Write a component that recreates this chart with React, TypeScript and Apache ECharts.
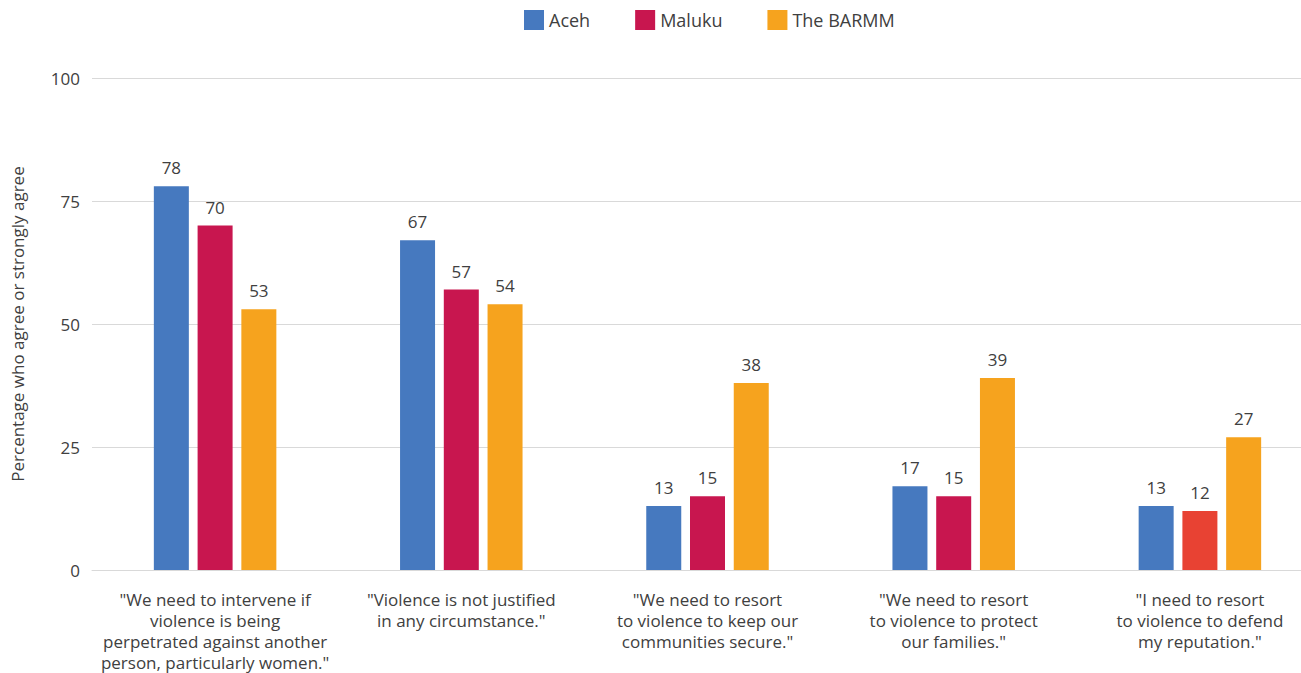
import React, { useEffect, useRef } from "react";
import * as echarts from "echarts";

const categories = [
  '"We need to intervene if\nviolence is being\nperpetrated against another\nperson, particularly women."',
  '"Violence is not justified\nin any circumstance."',
  '"We need to resort\nto violence to keep our\ncommunities secure."',
  '"We need to resort\nto violence to protect\nour families."',
  '"I need to resort\nto violence to defend\nmy reputation."',
];
const aceh = [78, 67, 13, 17, 13];
const maluku = [70, 57, 15, 15, 12];
const barmm = [53, 54, 38, 39, 27];
const yTicks = [0, 25, 50, 75, 100];

const FONT = "Open Sans";
const TXT = "#404040";

export default function App() {
  const ref = useRef<HTMLDivElement>(null);
  useEffect(() => {
    document.body.style.margin = "0";
    const chart = echarts.init(ref.current!, null, { renderer: "svg" });
    const label = {
      show: true,
      position: "top" as const,
      distance: 10,
      fontSize: 17,
      color: TXT,
      fontFamily: FONT,
    };
    chart.setOption({
      animation: false,
      textStyle: { fontFamily: FONT },
      legend: {
        top: 5,
        left: 519,
        itemWidth: 20,
        itemHeight: 20,
        itemGap: 45,
        icon: "rect",
        textStyle: { fontSize: 18, color: TXT, fontFamily: FONT },
        data: ["Aceh", "Maluku", "The BARMM"],
      },
      grid: {
        left: 92,
        right: -22,
        top: 78,
        bottom: 103,
        outerBoundsMode: "none",
        containLabel: false,
      },
      xAxis: {
        type: "category",
        data: categories,
        axisTick: { show: false },
        axisLine: { lineStyle: { color: "#d9d9d9", width: 1 } },
        axisLabel: {
          interval: 0,
          fontSize: 17,
          lineHeight: 21,
          color: TXT,
          fontFamily: FONT,
          margin: 19,
        },
      },
      yAxis: {
        type: "value",
        min: yTicks[0],
        max: yTicks[yTicks.length - 1],
        interval: 25,
        name: "Percentage who agree or strongly agree",
        nameLocation: "middle",
        nameGap: 66,
        nameTextStyle: { fontSize: 17, color: TXT, fontFamily: FONT },
        axisLabel: { fontSize: 17, color: TXT, fontFamily: FONT, margin: 12 },
        splitLine: { lineStyle: { color: "#d9d9d9", width: 1 } },
        axisLine: { show: false },
        axisTick: { show: false },
      },
      series: [
        {
          name: "Aceh",
          type: "bar",
          data: aceh,
          barWidth: 35,
          barGap: "25%",
          itemStyle: { color: "#4679bf" },
          label,
        },
        {
          name: "Maluku",
          type: "bar",
          data: maluku.map((v, i) =>
            i === 4 ? { value: v, itemStyle: { color: "#e84233" } } : v
          ),
          barWidth: 35,
          barGap: "25%",
          itemStyle: { color: "#c8164f" },
          label,
        },
        {
          name: "The BARMM",
          type: "bar",
          data: barmm,
          barWidth: 35,
          barGap: "25%",
          itemStyle: { color: "#f6a31e" },
          label,
        },
      ],
    });
    return () => chart.dispose();
  }, []);
  return (
    <div
      ref={ref}
      style={{ width: 1301, height: 673, position: "absolute", left: 0, top: 0 }}
    />
  );
}
